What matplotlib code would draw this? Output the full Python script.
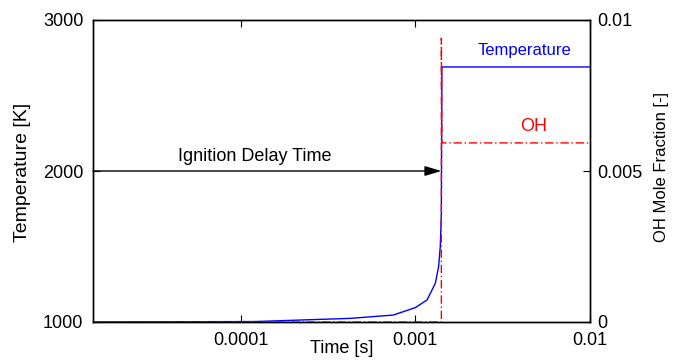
import matplotlib
matplotlib.use("Agg")
import matplotlib.pyplot as plt
import numpy as np

plt.rcParams['font.family'] = ['Liberation Sans', 'DejaVu Sans']

# Data
time_s = [1.43e-5, 1.21e-4, 2.19e-4, 4.25e-4, 7.48e-4, 1.0e-3, 1.167e-3,
          1.302e-3, 1.36e-3, 1.39e-3, 1.41e-3, 1.42e-3, 1.0e-2]
temperature_K = [1000, 1003, 1013, 1024, 1046, 1095, 1146,
                 1256, 1366, 1499, 1722, 2689, 2689]
oh_time_s = [1.43e-5, 1.0e-3, 1.41e-3, 1.41e-3, 1.42e-3, 1.0e-2]
oh_fraction = [0.0, 0.0, 0.0, 0.0094, 0.00593, 0.00593]
ignition_time = 1.41e-3
arrow_T = 2000

x_limits = [1.43e-5, 1.0e-2]
x_ticks = [1e-4, 1e-3, 1e-2]
x_ticklabels = ['0.0001', '0.001', '0.01']
T_ticks = [1000, 2000, 3000]
oh_ticks = [0, 0.005, 0.01]
oh_ticklabels = ['0', '0.005', '0.01']

fig = plt.figure(figsize=(6.75, 3.6), dpi=100)
ax = fig.add_axes([93/675, 38/360, (590-93)/675, (322-20)/360])
ax2 = ax.twinx()

fs = 13
ax.plot(time_s, temperature_K, color='blue', lw=1.0, zorder=3)
ax2.plot(oh_time_s, oh_fraction, color='red', lw=1.0, ls='-.', dashes=(6, 2, 1, 2), zorder=2)

ax.set_xscale('log')
ax.set_xlim(x_limits)
ax.set_ylim(1000, 3000)
ax2.set_ylim(0, 0.01)
ax.set_xticks(x_ticks)
ax.set_xticklabels(x_ticklabels, fontsize=fs)
ax.xaxis.set_minor_locator(matplotlib.ticker.NullLocator())
ax.set_yticks(T_ticks)
ax.set_yticklabels([str(t) for t in T_ticks], fontsize=fs)
ax2.set_yticks(oh_ticks)
ax2.set_yticklabels(oh_ticklabels, fontsize=fs)

ax.tick_params(axis='both', direction='in', length=5, width=0.8, top=True, pad=7)
ax.tick_params(axis='y', right=False)
ax2.tick_params(axis='y', direction='in', length=5, width=0.8, pad=5)
for a in (ax, ax2):
    for s in a.spines.values():
        s.set_linewidth(1.0)

ax.set_xlabel('Time [s]', fontsize=fs, va='center')
ax.xaxis.set_label_coords(0.5, -0.0894)
ax.set_ylabel('Temperature [K]', fontsize=14, va='center')
ax.yaxis.set_label_coords(-0.142, 0.495)
ax2.set_ylabel('OH Mole Fraction [-]', fontsize=12, va='center')
ax2.yaxis.set_label_coords(1.144, 0.513)

ax.annotate('', xy=(ignition_time, arrow_T), xytext=(x_limits[0], arrow_T),
            arrowprops=dict(arrowstyle='-|>,head_length=1.0,head_width=0.3',
                            color='black', lw=1.0,
                            mutation_scale=10, shrinkA=0, shrinkB=0), zorder=4)
ax.text(1.21e-4, 2096, 'Ignition Delay Time', fontsize=fs, ha='center', va='center')
ax.text(2.26e-3, 2795, 'Temperature', color='blue', fontsize=12, ha='left', va='center')
ax2.text(4.78e-3, 0.00647, 'OH', color='red', fontsize=fs, ha='center', va='center')

fig.savefig('out.png', dpi=100)
